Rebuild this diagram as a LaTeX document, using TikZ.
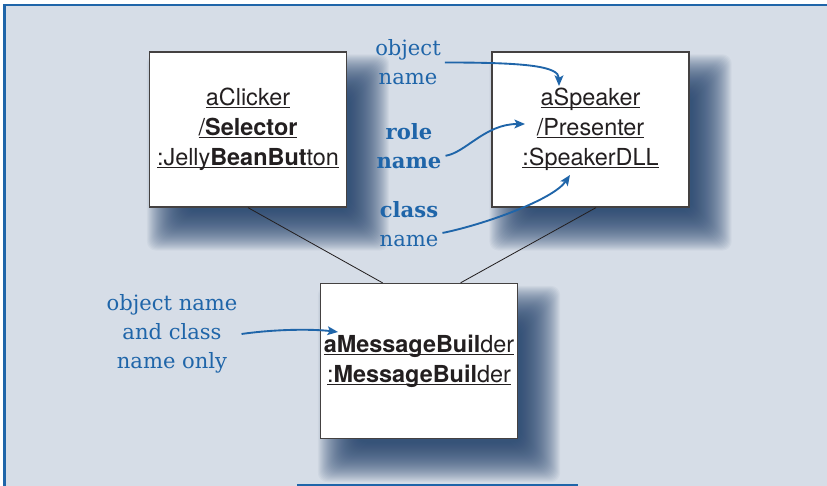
\documentclass[tikz,border=0pt]{standalone}
\usepackage{fontspec}
\setsansfont{TeX Gyre Heros}
\newfontfamily\notefont{DejaVu Serif}
\usetikzlibrary{arrows.meta}
\definecolor{canvas}{RGB}{214,221,231}
\definecolor{noteblue}{RGB}{31,101,169}
\definecolor{shadowblue}{RGB}{34,66,108}
\definecolor{inkgray}{RGB}{35,31,32}
\pgfdeclarelayer{background}
\pgfsetlayers{background,main}
\newsavebox{\ulbox}
\newcommand{\uname}[1]{\sbox{\ulbox}{#1}\rlap{\rule[-2.2pt]{\wd\ulbox}{1pt}}\usebox{\ulbox}}
\newcommand{\softshadow}[1]{%
    \foreach \r in {20,19,...,-20}{%
        \fill[shadowblue, opacity=0.045, rounded corners=8pt]
            ([shift={(18-\r,-23-\r)}]#1.south west) rectangle ([shift={(22+\r,-23+\r)}]#1.north east);
    }}

\begin{document}
\begin{tikzpicture}[x=0.03cm, y=0.03cm]
    \tikzset{
        objbox/.style={rectangle, draw=inkgray!85, line width=1.1pt, fill=white,
        minimum width=5.91cm, minimum height=4.65cm, inner sep=0pt,
        align=center, text=inkgray, font=\sffamily\fontsize{20}{25.6}\selectfont},
        note/.style={align=center, text=noteblue,
        font=\notefont\fontsize{18}{24.7}\selectfont},
        link/.style={line width=0.7pt, draw=inkgray},
        arrow/.style={line width=1.6pt, draw=noteblue,
        -{Stealth[length=9pt, width=7.5pt, inset=2pt]}}
    }
    \useasboundingbox (0,0) rectangle (827,486);

    \node (clicker) [objbox] at (248,356.5) {\uname{aClicker}\\ \uname{/\textbf{Selector}}\\ \uname{:Jelly\textbf{BeanBut}ton}};
    \node (speaker) [objbox] at (590.5,356.5) {\uname{aSpeaker}\\ \uname{/Presenter}\\ \uname{:SpeakerDLL}};
    \node (builder) [objbox] at (419,125) {\uname{\textbf{aMessageBuil}der}\\ \uname{:\textbf{MessageBuil}der}};

    \node (objname) [note] at (408,423.5) {object\\name};
    \node (rolename) [note] at (409,340) {\textbf{role}\\\textbf{name}};
    \node (classname) [note] at (409,262) {\textbf{class}\\name};
    \node (onlyname) [note] at (172,152) {object name\\and class\\name only};

    \coordinate (objtip) at (559,400);
    \coordinate (roletip) at (525,362);
    \coordinate (classtip) at (570,311);
    \coordinate (onlytip) at (338,154);

    \begin{pgfonlayer}{background}
        \fill[canvas] (4,0) rectangle (827,481);
        \softshadow{clicker}
        \softshadow{speaker}
        \softshadow{builder}
    \end{pgfonlayer}

    \draw [noteblue, line width=2pt] (4.5,0) -- (4.5,481) -- (827,481);
    \draw [noteblue, line width=2.2pt] (297,1.2) -- (578,1.2);

    \draw [link] (clicker.south) -- (builder.115);
    \draw [link] (speaker.-86) -- (builder.62);

    \draw [arrow] (objname.east) .. controls +(80,0) and +(0,20) .. (objtip);
    \draw [arrow] (rolename.-15) .. controls +(20,3) and +(-40,0) .. (roletip);
    \draw [arrow] (classname.-15) .. controls +(40,8) and +(-17,-25) .. (classtip);
    \draw [arrow] (onlyname.east) .. controls +(35,5) and +(-25,3) .. (onlytip);
\end{tikzpicture}
\end{document}
